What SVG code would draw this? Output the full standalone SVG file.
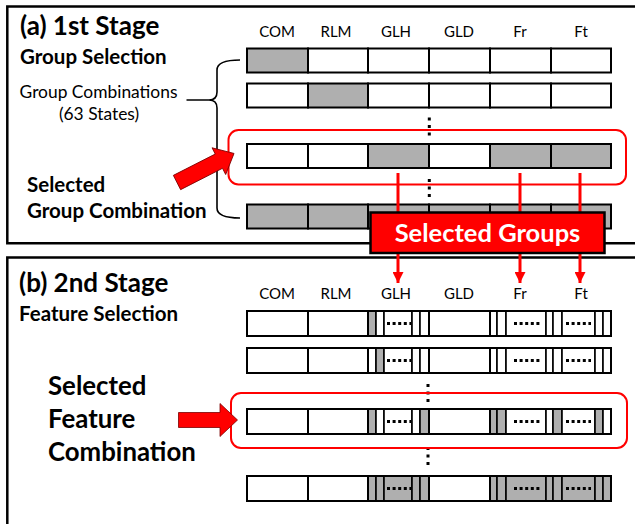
<svg xmlns="http://www.w3.org/2000/svg" width="635" height="524" viewBox="0 0 635 524">
<defs>
<style>
text{font-family:Lato,"Open Sans","DejaVu Sans",sans-serif;fill:#000}
.b{font-weight:bold}
.lab{font-size:15px;text-anchor:middle}
.c{fill:#fff;stroke:#000;stroke-width:2}
.g{fill:#afafaf;stroke:#000;stroke-width:2}
.s{fill:#fff;stroke:#000;stroke-width:1.6}
.sg{fill:#afafaf;stroke:#000;stroke-width:1.6}
.dots{stroke:#000;stroke-width:3;stroke-dasharray:3 2.6;fill:none}
.panel{fill:none;stroke:#000;stroke-width:2.5}
.sel{fill:none;stroke:#f00;stroke-width:2}
.rl{stroke:#f00;stroke-width:3;fill:none}
.arr{fill:#f00;stroke:#7a0000;stroke-width:0.8}
</style>
<marker id="ah" viewBox="0 0 10 10" refX="10" refY="5" markerWidth="11" markerHeight="11" markerUnits="userSpaceOnUse" orient="auto">
<path d="M0,0 L10,5 L0,10 Z" fill="#f00"/>
</marker>
<g id="vdots"><rect x="-1.5" y="0" width="3" height="3"/><rect x="-1.5" y="7.5" width="3" height="3"/><rect x="-1.5" y="15" width="3" height="3"/></g>
</defs>
<rect width="635" height="524" fill="#fff"/>

<!-- Panels -->
<g id="panel-a"><path class="panel" d="M640,6.5 H7.3 V243.3 H640"/></g>
<g id="panel-b"><path class="panel" d="M640,257.5 H7.3 V530"/></g>

<!-- Stage 1 texts -->
<g id="title-a">
<text x="20" y="35" class="b" font-size="26">(a) 1st Stage</text>
<text x="20" y="63.5" class="b" font-size="20.5">Group Selection</text>
</g>
<g id="group-combinations">
<text x="98.5" y="98" font-size="17.4" text-anchor="middle">Group Combinations</text>
<text x="99" y="120" font-size="17.4" text-anchor="middle">(63 States)</text>
<path d="M186.5,100 H209 M240,60 Q217,60 217,70 V92 Q217,100 209,100 Q217,100 217,108 V208 Q217,218 240,218" fill="none" stroke="#000" stroke-width="1.6"/>
</g>
<g id="selected-group-label">
<text x="27" y="191.5" class="b" font-size="20.5">Selected</text>
<text x="27" y="217.5" class="b" font-size="20.5">Group Combination</text>
</g>

<!-- Stage 1 column labels -->
<g id="labels-a">
<text class="lab" x="277" y="36.5">COM</text>
<text class="lab" x="336" y="36.5">RLM</text>
<text class="lab" x="396" y="36.5">GLH</text>
<text class="lab" x="459" y="36.5">GLD</text>
<text class="lab" x="520" y="36.5">Fr</text>
<text class="lab" x="581" y="36.5">Ft</text>
</g>

<!-- Stage 1 rows -->
<g id="row-a1">
<rect class="g" x="247" y="48.5" width="61" height="24"/>
<rect class="c" x="308" y="48.5" width="60" height="24"/>
<rect class="c" x="368" y="48.5" width="61" height="24"/>
<rect class="c" x="429" y="48.5" width="61" height="24"/>
<rect class="c" x="490" y="48.5" width="61" height="24"/>
<rect class="c" x="551" y="48.5" width="60" height="24"/>
</g>
<g id="row-a2">
<rect class="c" x="247" y="83.5" width="61" height="24"/>
<rect class="g" x="308" y="83.5" width="60" height="24"/>
<rect class="c" x="368" y="83.5" width="61" height="24"/>
<rect class="c" x="429" y="83.5" width="61" height="24"/>
<rect class="c" x="490" y="83.5" width="61" height="24"/>
<rect class="c" x="551" y="83.5" width="60" height="24"/>
</g>
<use href="#vdots" x="429.3" y="117.5"/>
<g id="row-a3">
<rect class="c" x="247" y="144" width="61" height="24"/>
<rect class="c" x="308" y="144" width="60" height="24"/>
<rect class="g" x="368" y="144" width="61" height="24"/>
<rect class="c" x="429" y="144" width="61" height="24"/>
<rect class="g" x="490" y="144" width="61" height="24"/>
<rect class="g" x="551" y="144" width="60" height="24"/>
</g>
<use href="#vdots" x="429.3" y="179"/>
<g id="row-a4">
<rect class="g" x="247" y="204.5" width="61" height="24"/>
<rect class="g" x="308" y="204.5" width="60" height="24"/>
<rect class="g" x="368" y="204.5" width="61" height="24"/>
<rect class="g" x="429" y="204.5" width="61" height="24"/>
<rect class="g" x="490" y="204.5" width="61" height="24"/>
<rect class="g" x="551" y="204.5" width="60" height="24"/>
</g>
<g id="highlight-a"><rect class="sel" x="228.5" y="130" width="397.5" height="54.5" rx="10"/></g>
<g id="arrow-a"><polygon class="arr" transform="translate(177,182.5) rotate(-27)" points="0,-8 47,-8 47,-15 64,0 47,15 47,8 0,8"/></g>

<!-- Connectors -->
<g id="connectors">
<line class="rl" x1="398" y1="173" x2="398" y2="213"/>
<line class="rl" x1="520" y1="173" x2="520" y2="213"/>
<line class="rl" x1="580" y1="173" x2="580" y2="213"/>
<line class="rl" x1="398" y1="253" x2="398" y2="283" marker-end="url(#ah)"/>
<line class="rl" x1="520" y1="253" x2="520" y2="283" marker-end="url(#ah)"/>
<line class="rl" x1="580" y1="253" x2="580" y2="283" marker-end="url(#ah)"/>
</g>
<g id="selected-groups">
<rect x="370.5" y="212.5" width="234" height="40.5" fill="#f00" stroke="#000" stroke-width="2.5"/>
<text x="487.5" y="242" class="b" font-size="25.5" text-anchor="middle" style="fill:#fff">Selected Groups</text>
</g>

<!-- Stage 2 texts -->
<g id="title-b">
<text x="19" y="291.5" class="b" font-size="26">(b) 2nd Stage</text>
<text x="19" y="320.5" class="b" font-size="20.5">Feature Selection</text>
</g>
<g id="selected-feature-label">
<text x="48" y="395" class="b" font-size="25.8">Selected</text>
<text x="48" y="427.5" class="b" font-size="25.8">Feature</text>
<text x="48" y="460.5" class="b" font-size="25.8">Combination</text>
</g>
<g id="labels-b">
<text class="lab" x="277" y="299">COM</text>
<text class="lab" x="336" y="299">RLM</text>
<text class="lab" x="396" y="299">GLH</text>
<text class="lab" x="459" y="299">GLD</text>
<text class="lab" x="520" y="299">Fr</text>
<text class="lab" x="581" y="299">Ft</text>
</g>

<!-- Stage 2 rows -->
<g id="row-b1" transform="translate(0,311)">
<rect class="c" x="247" y="0" width="61" height="25"/>
<rect class="c" x="308" y="0" width="60" height="25"/>
<rect class="sg" x="368" y="0" width="8" height="25"/>
<rect class="s" x="376" y="0" width="8" height="25"/>
<rect class="s" x="384" y="0" width="28" height="25"/>
<rect class="s" x="412" y="0" width="8" height="25"/>
<rect class="s" x="420" y="0" width="9" height="25"/>
<rect class="c" x="429" y="0" width="61" height="25"/>
<rect class="s" x="490" y="0" width="7" height="25"/>
<rect class="s" x="497" y="0" width="9" height="25"/>
<rect class="s" x="506" y="0" width="40" height="25"/>
<rect class="s" x="546" y="0" width="7" height="25"/>
<rect class="s" x="553" y="0" width="9" height="25"/>
<rect class="s" x="562" y="0" width="33" height="25"/>
<rect class="s" x="595" y="0" width="8" height="25"/>
<rect class="s" x="603" y="0" width="8" height="25"/>
<rect x="368" y="0" width="61" height="25" fill="none" stroke="#000" stroke-width="2"/>
<rect x="490" y="0" width="121" height="25" fill="none" stroke="#000" stroke-width="2"/>
<line class="dots" x1="387" y1="12.5" x2="411" y2="12.5"/>
<line class="dots" x1="514" y1="12.5" x2="542" y2="12.5"/>
<line class="dots" x1="566" y1="12.5" x2="591" y2="12.5"/>
</g>
<g id="row-b2" transform="translate(0,348)">
<rect class="c" x="247" y="0" width="61" height="25"/>
<rect class="c" x="308" y="0" width="60" height="25"/>
<rect class="s" x="368" y="0" width="8" height="25"/>
<rect class="sg" x="376" y="0" width="8" height="25"/>
<rect class="s" x="384" y="0" width="28" height="25"/>
<rect class="s" x="412" y="0" width="8" height="25"/>
<rect class="s" x="420" y="0" width="9" height="25"/>
<rect class="c" x="429" y="0" width="61" height="25"/>
<rect class="s" x="490" y="0" width="7" height="25"/>
<rect class="s" x="497" y="0" width="9" height="25"/>
<rect class="s" x="506" y="0" width="40" height="25"/>
<rect class="s" x="546" y="0" width="7" height="25"/>
<rect class="s" x="553" y="0" width="9" height="25"/>
<rect class="s" x="562" y="0" width="33" height="25"/>
<rect class="s" x="595" y="0" width="8" height="25"/>
<rect class="s" x="603" y="0" width="8" height="25"/>
<rect x="368" y="0" width="61" height="25" fill="none" stroke="#000" stroke-width="2"/>
<rect x="490" y="0" width="121" height="25" fill="none" stroke="#000" stroke-width="2"/>
<line class="dots" x1="387" y1="12.5" x2="411" y2="12.5"/>
<line class="dots" x1="514" y1="12.5" x2="542" y2="12.5"/>
<line class="dots" x1="566" y1="12.5" x2="591" y2="12.5"/>
</g>
<use href="#vdots" x="428" y="384"/>
<g id="row-b3" transform="translate(0,409)">
<rect class="c" x="247" y="0" width="61" height="25"/>
<rect class="c" x="308" y="0" width="60" height="25"/>
<rect class="sg" x="368" y="0" width="8" height="25"/>
<rect class="s" x="376" y="0" width="8" height="25"/>
<rect class="s" x="384" y="0" width="28" height="25"/>
<rect class="s" x="412" y="0" width="8" height="25"/>
<rect class="sg" x="420" y="0" width="9" height="25"/>
<rect class="c" x="429" y="0" width="61" height="25"/>
<rect class="sg" x="490" y="0" width="7" height="25"/>
<rect class="sg" x="497" y="0" width="9" height="25"/>
<rect class="s" x="506" y="0" width="40" height="25"/>
<rect class="s" x="546" y="0" width="7" height="25"/>
<rect class="sg" x="553" y="0" width="9" height="25"/>
<rect class="s" x="562" y="0" width="33" height="25"/>
<rect class="sg" x="595" y="0" width="8" height="25"/>
<rect class="s" x="603" y="0" width="8" height="25"/>
<rect x="368" y="0" width="61" height="25" fill="none" stroke="#000" stroke-width="2"/>
<rect x="490" y="0" width="121" height="25" fill="none" stroke="#000" stroke-width="2"/>
<line class="dots" x1="387" y1="12.5" x2="411" y2="12.5"/>
<line class="dots" x1="514" y1="12.5" x2="542" y2="12.5"/>
<line class="dots" x1="566" y1="12.5" x2="591" y2="12.5"/>
</g>
<use href="#vdots" x="428" y="447"/>
<g id="row-b4" transform="translate(0,476)">
<rect class="c" x="247" y="0" width="61" height="25"/>
<rect class="c" x="308" y="0" width="60" height="25"/>
<rect class="sg" x="368" y="0" width="8" height="25"/>
<rect class="sg" x="376" y="0" width="8" height="25"/>
<rect class="sg" x="384" y="0" width="28" height="25"/>
<rect class="sg" x="412" y="0" width="8" height="25"/>
<rect class="sg" x="420" y="0" width="9" height="25"/>
<rect class="c" x="429" y="0" width="61" height="25"/>
<rect class="sg" x="490" y="0" width="7" height="25"/>
<rect class="sg" x="497" y="0" width="9" height="25"/>
<rect class="sg" x="506" y="0" width="40" height="25"/>
<rect class="sg" x="546" y="0" width="7" height="25"/>
<rect class="sg" x="553" y="0" width="9" height="25"/>
<rect class="sg" x="562" y="0" width="33" height="25"/>
<rect class="sg" x="595" y="0" width="8" height="25"/>
<rect class="sg" x="603" y="0" width="8" height="25"/>
<rect x="368" y="0" width="61" height="25" fill="none" stroke="#000" stroke-width="2"/>
<rect x="490" y="0" width="121" height="25" fill="none" stroke="#000" stroke-width="2"/>
<line class="dots" x1="387" y1="12.5" x2="411" y2="12.5"/>
<line class="dots" x1="514" y1="12.5" x2="542" y2="12.5"/>
<line class="dots" x1="566" y1="12.5" x2="591" y2="12.5"/>
</g>
<g id="highlight-b"><rect class="sel" x="231" y="393" width="396" height="55" rx="10"/></g>
<g id="arrow-b"><polygon class="arr" points="178.5,412.5 220,412.5 220,403.5 237.5,420 220,436.5 220,427.5 178.5,427.5"/></g>
</svg>
